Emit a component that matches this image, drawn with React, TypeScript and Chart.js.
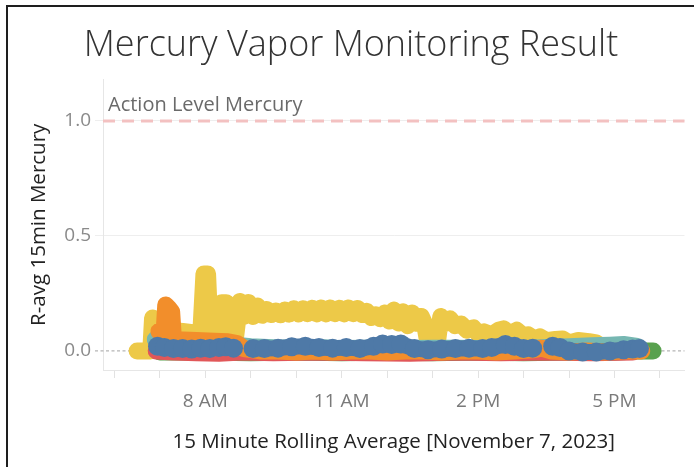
import React, { useEffect, useRef } from "react";
import { Chart, registerables } from "chart.js";

Chart.register(...registerables);

// ---- Data (time in decimal hours, value in mg/m3) ----
const actionLevel = 1.0;
const actionLabel = "Action Level Mercury";
const yTickValues = [0, 0.5, 1.0];
const hourTicks = [6, 7, 8, 9, 10, 11, 12, 13, 14, 15, 16, 17, 18];
const labeledHours = [8, 11, 14, 17];
const labeledHourText = ["8 AM", "11 AM", "2 PM", "5 PM"];

const yellowTimes = [
  6.5, 6.8, 6.84, 6.95, 7.2, 7.5, 7.9, 7.97, 8.05, 8.11, 8.22, 8.36, 8.46, 8.56, 8.66, 8.76,
  8.85, 8.95, 9.05, 9.15, 9.25, 9.35, 9.45, 9.55, 9.65, 9.75, 9.85, 9.95, 10.05, 10.15, 10.25,
  10.35, 10.45, 10.55, 10.65, 10.75, 10.85, 10.95, 11.05, 11.15, 11.25, 11.35, 11.45, 11.55,
  11.65, 11.75, 11.85, 11.95, 12.05, 12.15, 12.25, 12.35, 12.45, 12.55, 12.65, 12.75, 12.82,
  12.9, 13.1, 13.18, 13.28, 13.38, 13.5, 13.63, 13.75, 13.9, 14.0, 14.13, 14.3, 14.45, 14.56,
  14.7, 14.85, 15.0, 15.1, 15.25, 15.36, 15.5, 15.7, 15.86, 16.0, 16.2, 16.44, 16.6, 16.79,
  17.0, 17.15,
];
const yellowValues = [
  0, 0, 0.143, 0.135, 0.09, 0.085, 0.075, 0.335, 0.335, 0.06, 0.055, 0.21, 0.21, 0.05, 0.05, 0.215,
  0.15, 0.21, 0.15, 0.195, 0.155, 0.18, 0.158, 0.174, 0.157, 0.178, 0.16, 0.183, 0.161, 0.183, 0.162,
  0.186, 0.161, 0.187, 0.161, 0.187, 0.162, 0.186, 0.161, 0.187, 0.162, 0.185, 0.158, 0.172,
  0.145, 0.157, 0.14, 0.165, 0.13, 0.178, 0.122, 0.17, 0.11, 0.165, 0.12, 0.15, 0.12,
  0.03, 0.03, 0.15, 0.12, 0.14, 0.11, 0.117, 0.09, 0.1, 0.075, 0.083, 0.07, 0.09, 0.096,
  0.075, 0.09, 0.065, 0.07, 0.05, 0.061, 0.045, 0.05, 0.052, 0.035, 0.045, 0.04, 0.035, 0.009,
  0.005, 0.0,
];

const orangeTimes = [6.98, 7.1, 7.13, 7.2, 7.26, 7.3, 7.5, 7.8, 8.2, 8.5, 8.7, 8.85, 9.2, 9.6, 10.0, 10.4, 10.8, 11.2, 11.6, 12.0, 12.4, 12.8, 13.2, 13.6, 14.0, 14.4, 14.8, 15.2, 15.4, 15.6, 16.0, 16.4, 16.8, 17.2, 17.6];
const orangeValues = [0.085, 0.1, 0.2, 0.185, 0.17, 0.05, 0.048, 0.045, 0.042, 0.04, 0.032, 0.01, 0.0, 0.0, -0.005, 0.0, -0.005, 0.0, 0.0, -0.005, 0.0, 0.0, -0.005, 0.0, 0.0, -0.005, 0.0, 0.005, 0.012, 0.0, -0.005, 0.0, -0.005, 0.0, 0.0];

const redTimes = [6.92, 7.3, 7.8, 8.3, 8.8, 9.5, 10.5, 11.5, 12.5, 13.5, 14.5, 15.5, 16.5, 17.4];
const redValues = [0.0, -0.005, -0.008, -0.01, -0.005, -0.008, -0.005, -0.008, -0.01, -0.005, -0.008, -0.005, -0.008, -0.005];

const tealTimes = [6.9, 7.2, 7.6, 8.0, 8.5, 9.0, 9.5, 10.0, 10.5, 11.0, 11.5, 12.0, 12.5, 13.0, 13.5, 14.0, 14.5, 15.0, 15.5, 16.0, 16.5, 16.9, 17.2, 17.5];
const tealValues = [0.05, 0.045, 0.04, 0.035, 0.028, 0.018, 0.014, 0.012, 0.015, 0.01, 0.012, 0.015, 0.01, 0.012, 0.012, 0.01, 0.012, 0.01, 0.015, 0.018, 0.022, 0.025, 0.028, 0.02];

const greenTimes = [7.0, 8.0, 9.0, 10.0, 11.0, 12.0, 13.0, 14.0, 15.0, 16.0, 17.0, 17.5, 17.85];
const greenValues = [-0.005, -0.005, -0.008, -0.005, -0.008, -0.005, -0.008, -0.005, -0.008, -0.005, -0.005, 0.0, 0.0];

const blueTimes = [6.95, 7.1, 7.3, 7.5, 7.7, 7.9, 8.1, 8.3, 8.45, 8.62, 8.83, 9.05, 9.3, 9.6, 9.9, 10.2, 10.5, 10.8, 11.1, 11.4, 11.7, 11.9, 12.1, 12.3, 12.6, 12.9, 13.2, 13.5, 13.8, 14.1, 14.3, 14.6, 14.8, 15.0, 15.2, 15.42, 15.64, 15.8, 16.0, 16.3, 16.6, 16.9, 17.2, 17.4, 17.55];
const blueValues = [0.02, 0.015, 0.01, 0.01, 0.008, 0.012, 0.01, 0.015, 0.018, 0.012, null, 0.01, 0.01, 0.012, 0.018, 0.02, 0.015, 0.012, 0.015, 0.01, 0.02, 0.03, 0.028, 0.03, 0.01, 0.005, 0.008, 0.01, 0.012, 0.01, 0.015, 0.028, 0.02, 0.01, 0.012, null, 0.02, 0.015, 0.0, -0.005, -0.005, 0.0, 0.005, 0.008, 0.01];

const FONT = "'Open Sans', 'Noto Sans', sans-serif";

function pts(times: number[], values: (number | null)[]) {
  return times.map((t, i) => ({ x: t, y: values[i] }));
}

function lineDs(label: string, times: number[], values: (number | null)[], color: string, width: number, beads = 0) {
  return {
    label,
    data: pts(times, values),
    borderColor: color,
    backgroundColor: color,
    borderWidth: width,
    borderCapStyle: "round" as const,
    borderJoinStyle: "round" as const,
    pointRadius: beads,
    pointBorderWidth: 0,
    pointBackgroundColor: color,
    tension: 0,
    spanGaps: false,
    fill: false,
  };
}

const refLinesPlugin = {
  id: "refLines",
  beforeDatasetsDraw(chart: any) {
    const { ctx, chartArea, scales } = chart;
    const y0 = scales.y.getPixelForValue(0);
    const y1 = scales.y.getPixelForValue(actionLevel);
    ctx.save();
    // zero reference line
    ctx.strokeStyle = "#b5b5b5";
    ctx.lineWidth = 1.2;
    ctx.setLineDash([3, 2.5]);
    ctx.beginPath();
    ctx.moveTo(chartArea.left - 8, y0);
    ctx.lineTo(chartArea.right, y0);
    ctx.stroke();
    // action level line
    ctx.strokeStyle = "#f3c1c1";
    ctx.lineWidth = 2.8;
    ctx.setLineDash([12, 7]);
    ctx.beginPath();
    ctx.moveTo(chartArea.left, y1);
    ctx.lineTo(chartArea.right, y1);
    ctx.stroke();
    ctx.setLineDash([]);
    ctx.fillStyle = "#6a6a6a";
    ctx.font = `20px ${FONT}`;
    ctx.textAlign = "left";
    ctx.textBaseline = "middle";
    ctx.fillText(actionLabel, chartArea.left + 5, y1 - 16);
    ctx.restore();
  },
};

export default function App() {
  const ref = useRef<HTMLCanvasElement | null>(null);
  useEffect(() => {
    if (!ref.current) return;
    const chart = new Chart(ref.current, {
      type: "line",
      data: {
        datasets: [
          lineDs("Blue", blueTimes, blueValues, "#4E79A7", 16, 9.5),
          lineDs("Orange", orangeTimes, orangeValues, "#F28E2B", 17),
          lineDs("Red", redTimes, redValues, "#E15759", 17),
          lineDs("Green", greenTimes, greenValues, "#59A14F", 17),
          lineDs("Teal", tealTimes, tealValues, "#76B7B2", 17),
          lineDs("Yellow", yellowTimes, yellowValues, "#EDC948", 17),
        ],
      },
      options: {
        responsive: false,
        animation: false,
        events: [],
        layout: { padding: 0 },
        plugins: {
          legend: { display: false },
          tooltip: { enabled: false },
          title: {
            display: true,
            text: "Mercury Vapor Monitoring Result",
            color: "#333333",
            font: { family: FONT, size: 36, weight: 300 as any, lineHeight: 1.2 },
            padding: { top: 17.4, bottom: 12 },
          },
        },
        scales: {
          x: {
            type: "linear",
            min: 5.75,
            max: 18.54,
            afterBuildTicks: (s: any) => {
              s.ticks = hourTicks.map((v) => ({ value: v }));
            },
            afterFit: (s: any) => {
              s.height = 97;
            },
            ticks: {
              autoSkip: false,
              maxRotation: 0,
              padding: 12,
              color: "#7a7a7a",
              font: { family: FONT, size: 19 },
              callback: (v: any) => {
                const i = labeledHours.indexOf(Number(v));
                return i >= 0 ? labeledHourText[i] : "";
              },
            },
            grid: { drawOnChartArea: false, drawTicks: true, tickLength: 8, color: "#e2e2e2" },
            border: { color: "#e6e6e6" },
            title: {
              display: true,
              text: "15 Minute Rolling Average [November 7, 2023]",
              color: "#222222",
              font: { family: FONT, size: 20.5, lineHeight: 1.2 },
              padding: { top: 4, bottom: 13 },
            },
          },
          y: {
            type: "linear",
            min: -0.083,
            max: 1.18,
            afterBuildTicks: (s: any) => {
              s.ticks = yTickValues.map((v) => ({ value: v }));
            },
            afterFit: (s: any) => {
              s.width = 95;
            },
            ticks: {
              padding: 4,
              color: "#8a8a8a",
              font: { family: FONT, size: 19 },
              callback: (v: any) => Number(v).toFixed(1),
            },
            grid: {
              tickLength: 8,
              color: (c: any) => (c.tick && c.tick.value === 0 ? "rgba(0,0,0,0)" : "#eeeeee"),
            },
            border: { color: "#e6e6e6" },
            title: {
              display: true,
              text: "R-avg 15min Mercury",
              color: "#222222",
              font: { family: FONT, size: 20.5, lineHeight: 1.2 },
              padding: { top: 19, bottom: 4 },
            },
          },
        },
      },
      plugins: [refLinesPlugin],
    });
    return () => chart.destroy();
  }, []);

  return (
    <div
      style={{
        position: "absolute",
        left: 6,
        top: 5,
        borderTop: "2px solid #1e1e1e",
        borderLeft: "2px solid #1e1e1e",
        background: "#fff",
      }}
    >
      <canvas ref={ref} width={686} height={460} style={{ display: "block", width: 686, height: 460 }} />
    </div>
  );
}
